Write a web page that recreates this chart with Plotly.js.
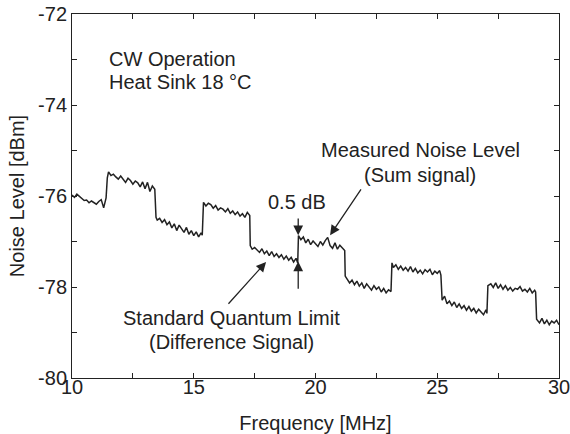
<!DOCTYPE html>
<html>
<head>
<meta charset="utf-8">
<script src="https://cdn.plot.ly/plotly-3.0.1.min.js"></script>
<style>html,body{margin:0;padding:0;background:#fff;}#chart{width:570px;height:434px;}</style>
</head>
<body>
<div id="chart"></div>
<script>
// Frequency [MHz]
const freq = [
 10.0,10.1,10.2,10.3,10.4,10.5,10.6,10.7,10.8,10.9,11.0,11.1,11.2,11.3,11.4,
 11.45,11.5,11.6,11.7,11.8,11.9,12.0,12.1,12.2,12.3,12.4,12.5,12.6,12.7,12.8,12.9,13.0,13.1,13.2,13.3,13.4,
 13.45,13.5,13.6,13.7,13.8,13.9,14.0,14.1,14.2,14.3,14.4,14.5,14.6,14.7,14.8,14.9,15.0,15.1,15.2,15.3,15.35,
 15.4,15.5,15.6,15.7,15.8,15.9,16.0,16.1,16.2,16.3,16.4,16.5,16.6,16.7,16.8,16.9,17.0,17.1,17.2,17.3,
 17.32,17.4,17.5,17.6,17.7,17.8,17.9,18.0,18.1,18.2,18.3,18.4,18.5,18.6,18.7,18.8,18.9,19.0,19.1,19.2,19.27,
 19.3,19.4,19.5,19.6,19.7,19.8,19.9,20.0,20.1,20.2,20.3,20.4,20.5,20.6,20.7,20.8,20.9,21.0,21.1,21.2,
 21.22,21.3,21.4,21.5,21.6,21.7,21.8,21.9,22.0,22.1,22.2,22.3,22.4,22.5,22.6,22.7,22.8,22.9,23.0,23.1,
 23.14,23.2,23.3,23.4,23.5,23.6,23.7,23.8,23.9,24.0,24.1,24.2,24.3,24.4,24.5,24.6,24.7,24.8,24.9,25.0,25.1,25.15,
 25.2,25.3,25.4,25.5,25.6,25.7,25.8,25.9,26.0,26.1,26.2,26.3,26.4,26.5,26.6,26.7,26.8,26.9,27.0,27.04,
 27.08,27.2,27.3,27.4,27.5,27.6,27.7,27.8,27.9,28.0,28.1,28.2,28.3,28.4,28.5,28.6,28.7,28.8,28.9,29.0,29.04,
 29.08,29.2,29.3,29.4,29.5,29.6,29.7,29.8,29.9,30.0
];
// Noise level [dBm]
const noise = [
 -75.98,-76.03,-75.96,-76.01,-76.06,-76.10,-76.09,-76.15,-76.11,-76.14,-76.18,-76.12,-76.08,-76.26,-76.04,
 -75.60,-75.47,-75.55,-75.52,-75.58,-75.63,-75.56,-75.62,-75.70,-75.61,-75.66,-75.74,-75.67,-75.71,-75.80,-75.69,-75.84,-75.70,-75.90,-75.78,-75.85,
 -76.47,-76.53,-76.49,-76.58,-76.52,-76.63,-76.57,-76.70,-76.61,-76.76,-76.64,-76.72,-76.80,-76.69,-76.84,-76.76,-76.87,-76.79,-76.90,-76.81,-76.86,
 -76.14,-76.22,-76.16,-76.19,-76.27,-76.21,-76.31,-76.26,-76.29,-76.35,-76.28,-76.38,-76.33,-76.41,-76.35,-76.44,-76.39,-76.47,-76.36,-76.43,
 -77.09,-77.17,-77.13,-77.19,-77.24,-77.16,-77.27,-77.21,-77.31,-77.22,-77.33,-77.27,-77.35,-77.29,-77.39,-77.32,-77.41,-77.35,-77.45,-77.37,-77.47,
 -76.87,-76.96,-76.90,-77.03,-76.95,-77.07,-76.99,-77.05,-77.11,-77.00,-77.08,-76.98,-76.91,-77.09,-77.15,-77.03,-77.17,-77.08,-77.13,-77.20,
 -77.76,-77.84,-77.91,-77.85,-77.95,-77.87,-77.98,-77.91,-78.03,-77.93,-78.01,-78.07,-77.97,-78.05,-78.00,-78.11,-78.03,-78.13,-78.06,-78.10,
 -77.47,-77.57,-77.51,-77.61,-77.54,-77.63,-77.57,-77.65,-77.55,-77.67,-77.59,-77.69,-77.63,-77.71,-77.62,-77.67,-77.61,-77.73,-77.65,-77.70,-77.64,-77.74,
 -78.29,-78.20,-78.37,-78.31,-78.41,-78.33,-78.45,-78.37,-78.47,-78.41,-78.51,-78.43,-78.53,-78.47,-78.57,-78.49,-78.55,-78.61,-78.50,-78.58,
 -77.97,-77.93,-78.01,-77.91,-78.03,-77.95,-78.05,-77.97,-78.07,-78.01,-78.09,-78.03,-78.05,-77.99,-78.09,-78.05,-78.11,-78.03,-78.13,-78.07,-78.11,
 -78.71,-78.79,-78.69,-78.81,-78.73,-78.83,-78.75,-78.79,-78.73,-78.83
];
const xTickVals = [10,12.5,15,17.5,20,22.5,25,27.5,30];
const xTickText = ['10','','15','','20','','25','','30'];
const yTickVals = [-80,-79,-78,-77,-76,-75,-74,-73,-72];
const yTickText = ['-80','','-78','','-76','','-74','','-72'];

const ink = '#222222';
const fnt = {family: '"Liberation Sans", Arial, Helvetica, sans-serif', size: 20, color: ink};

const trace = {
  x: freq, y: noise, type: 'scatter', mode: 'lines',
  line: {color: ink, width: 1.5}, hoverinfo: 'skip'
};

function arrow(x, y, ax, ay) {
  return {x: x, y: y, ax: ax, ay: ay, xref: 'x', yref: 'y', axref: 'x', ayref: 'y',
    text: '', showarrow: true, arrowhead: 2, arrowsize: 1.5, arrowwidth: 1.3,
    arrowcolor: ink, standoff: 0, startstandoff: 0};
}
function label(x, y, text, anchor) {
  return {x: x, y: y, xref: 'x', yref: 'y', text: text, showarrow: false,
    xanchor: anchor || 'center', yanchor: 'middle', font: fnt};
}

const layout = {
  width: 570, height: 434,
  margin: {l: 72, r: 11, t: 14, b: 56},
  paper_bgcolor: '#fff', plot_bgcolor: '#fff',
  font: fnt, showlegend: false,
  xaxis: {
    range: [10, 30], tickvals: xTickVals, ticktext: xTickText,
    ticks: 'inside', ticklen: 5, tickwidth: 1, tickcolor: ink,
    showline: true, linecolor: ink, linewidth: 1, mirror: 'ticks',
    showgrid: false, zeroline: false, tickfont: fnt,
    ticklabeloverflow: 'allow', ticklabelstandoff: -9,
    title: {text: 'Frequency [MHz]', font: fnt, standoff: 19}
  },
  yaxis: {
    range: [-80, -72], tickvals: yTickVals, ticktext: yTickText,
    ticks: 'inside', ticklen: 5, tickwidth: 1, tickcolor: ink,
    showline: true, linecolor: ink, linewidth: 1, mirror: 'ticks',
    showgrid: false, zeroline: false, tickfont: fnt,
    ticklabeloverflow: 'allow',
    title: {text: 'Noise Level [dBm]', font: fnt, standoff: 8}
  },
  annotations: [
    label(11.44, -72.99, 'CW Operation', 'left'),
    label(11.44, -73.49, 'Heat Sink 18 °C', 'left'),
    label(24.33, -74.99, 'Measured Noise Level'),
    label(24.29, -75.54, '(Sum signal)'),
    label(19.26, -76.13, '0.5 dB'),
    label(16.53, -78.68, 'Standard Quantum Limit'),
    label(16.55, -79.21, '(Difference Signal)'),
    arrow(19.29, -76.86, 19.29, -76.46),
    arrow(19.29, -77.44, 19.29, -78.07),
    arrow(20.6, -76.86, 21.91, -75.82),
    arrow(17.97, -77.45, 16.37, -78.40)
  ]
};

Plotly.newPlot('chart', [trace], layout, {displayModeBar: false, staticPlot: true});
</script>
</body>
</html>
